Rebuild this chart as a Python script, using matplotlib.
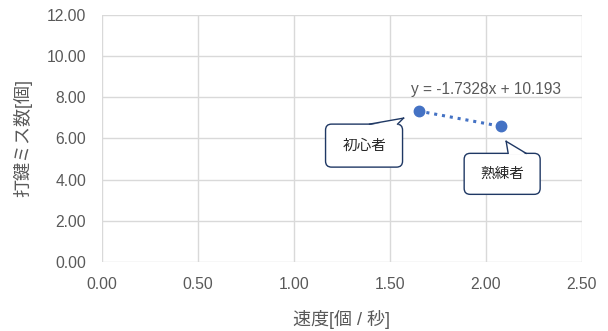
import numpy as np
import matplotlib
matplotlib.use("Agg")
import matplotlib.pyplot as plt
from matplotlib.patches import FancyBboxPatch, Polygon
from matplotlib.transforms import Affine2D

plt.rcParams['font.family'] = ['Liberation Sans', 'Noto Sans CJK JP']

# speed [keys/sec] vs. typing errors
speed = [1.65, 2.08]
misses = [7.33, 6.59]
labels = ['初心者', '熟練者']
slope, intercept = -1.7328, 10.193

x_ticks = [0.0, 0.5, 1.0, 1.5, 2.0, 2.5]
y_ticks = [0, 2, 4, 6, 8, 10, 12]

blue = '#4472C4'
grid = '#D9D9D9'
txt = '#595959'
navy = '#1F3864'

fig = plt.figure(figsize=(6.08, 3.31), dpi=100)
ax = fig.add_axes([0.167, 0.2085, 0.79, 0.7462])

ax.set_xlim(0, 2.5)
ax.set_ylim(0, 12)
ax.set_xticks(x_ticks)
ax.set_yticks(y_ticks)
ax.set_xticklabels([f'{v:.2f}' for v in x_ticks])
ax.set_yticklabels([f'{v:.2f}' for v in y_ticks])
ax.grid(True, color=grid, linewidth=1)
ax.set_axisbelow(True)
for s in ax.spines.values():
    s.set_visible(False)
ax.tick_params(length=0, colors=txt, labelsize=11.3)
ax.tick_params(axis='y', pad=11)
ax.tick_params(axis='x', pad=11)

ax.set_xlabel('速度[個 / 秒]', color=txt, fontsize=13, labelpad=13)
ax.set_ylabel('打鍵ミス数[個]', color=txt, fontsize=13, labelpad=10)

# linear trendline over the data range
xt = np.array(speed)
ax.plot(xt, slope * xt + intercept, color=blue, linestyle=(0, (1, 1.6)),
        linewidth=2.2, zorder=3)
ax.plot(speed, misses, 'o', color=blue, markersize=7.5, zorder=4)
ax.text(2.0, 8.4, f'y = {slope}x + {intercept}', color=txt, fontsize=11.2,
        ha='center', va='center')


def callout(xy, box, tip, base, text):
    # box/tip/base given as pixel offsets from the data point (y downward)
    px, py = ax.transData.transform(xy)
    tr = Affine2D().scale(1, -1).translate(px, py)
    x0, x1, y0, y1 = box
    rect = FancyBboxPatch((x0, y0), x1 - x0, y1 - y0,
                          boxstyle='round,pad=0,rounding_size=6',
                          facecolor='white', edgecolor=navy, linewidth=1,
                          transform=tr, zorder=5)
    fig.add_artist(rect)
    b0, b1 = base
    fig.add_artist(Polygon([tip, (b0, y0 + 1.2), (b1, y0 + 1.2)], closed=True,
                           facecolor='white', edgecolor='none',
                           transform=tr, zorder=6))
    for b in base:
        fig.add_artist(plt.Line2D([tip[0], b], [tip[1], y0], color=navy,
                                  linewidth=1, transform=tr, zorder=7))
    fig.text((x0 + x1) / 2, (y0 + y1) / 2, text, transform=tr,
             ha='center', va='center', fontsize=10.5, color='#262626', zorder=8)


callout((speed[0], misses[0]), (-93, -16, 13, 56), (-15, 7), (-49, -21), labels[0])
callout((speed[1], misses[1]), (-37, 39, 27, 68), (5, 15), (7, 25), labels[1])

fig.savefig('out.png', dpi=100)
